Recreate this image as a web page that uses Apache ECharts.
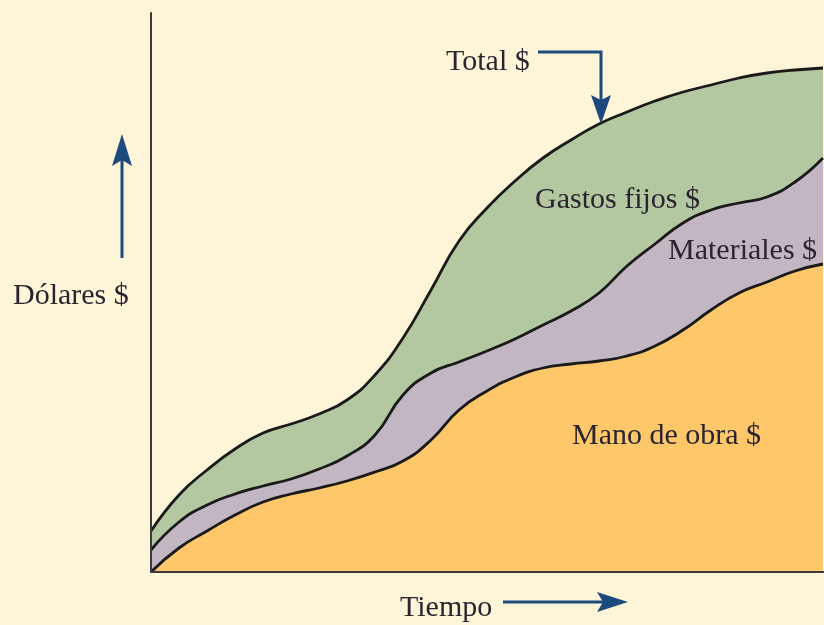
<!DOCTYPE html>
<html>
<head>
<meta charset="utf-8">
<script src="https://cdn.jsdelivr.net/npm/echarts@6/dist/echarts.min.js"></script>
<style>
  html, body { margin: 0; padding: 0; background: #FEF5D8; }
  #chart { width: 824px; height: 625px; }
</style>
</head>
<body>
<div id="chart"></div>
<script>
// Time points along the horizontal axis
const tiempo = [0, 28, 56, 84, 112, 140, 168, 196, 224, 252, 280, 308, 336, 364, 392, 420, 448, 476, 504, 532, 560, 588, 616, 644, 672];

// Cost components, stacked from the bottom up
const manoDeObra = [0, 24, 41, 57, 70, 78, 84, 91, 100, 111, 132, 162, 181, 195, 204, 208, 211, 216, 226, 242, 262, 279, 290, 301, 308];
const materiales = [22, 26, 26, 21, 16, 15, 19, 25, 37, 66, 67, 48, 40, 38, 43, 53, 68, 90, 102, 107, 100, 90, 85, 89, 106];
const gastosFijos = [19, 27, 35, 45, 53, 55, 55, 56, 60, 57, 83, 121, 143, 158, 167, 171, 169, 154, 143, 131, 125, 125, 124, 112, 90];

const seriesNames = ['Mano de obra $', 'Materiales $', 'Gastos fijos $'];
const layerColors = ['#FEC86A', '#C1B6C1', '#B3C8A1'];

// Running totals: the top edge of each layer
const layers = [manoDeObra, materiales, gastosFijos];
const tops = [];
layers.forEach((arr, k) => {
  tops.push(arr.map((v, i) => v + (k > 0 ? tops[k - 1][i] : 0)));
});

const chart = echarts.init(document.getElementById('chart'));

const serif = "'Liberation Serif', 'DejaVu Serif', serif";
const textColor = '#2a2430';
const arrowColor = '#1d4a7c';

function label(text, x, y) {
  return {
    type: 'text', x: x, y: y, z: 100,
    style: { text: text, font: '30px ' + serif, fill: textColor, textVerticalAlign: 'middle', textAlign: 'left' }
  };
}

// Each layer is filled down to the axis; upper layers sit behind lower ones
const series = tops.map((top, k) => ({
  name: seriesNames[k],
  type: 'line',
  smooth: 0.5,
  symbol: 'none',
  data: tiempo.map((t, i) => [t, top[i]]),
  lineStyle: { color: '#1a1a1a', width: 2.8 },
  areaStyle: { color: layerColors[k], opacity: 1 },
  z: 10 - k
}));

chart.setOption({
  backgroundColor: '#FEF5D8',
  animation: false,
  grid: { left: 151, right: 0, top: 13, bottom: 53 },
  xAxis: {
    type: 'value', min: 0, max: 673,
    axisLine: { show: true, onZero: false, lineStyle: { color: '#3a3a3a', width: 2 } },
    axisTick: { show: false }, axisLabel: { show: false }, splitLine: { show: false },
    z: 20
  },
  yAxis: {
    type: 'value', min: 0, max: 559,
    axisLine: { show: true, lineStyle: { color: '#3a3a3a', width: 2 } },
    axisTick: { show: false }, axisLabel: { show: false }, splitLine: { show: false },
    z: 20
  },
  series: series,
  graphic: [
    label('Total $', 446, 62),
    label('Gastos fijos $', 535, 200),
    label('Materiales $', 668, 251),
    label('Mano de obra $', 572, 436),
    label('Dólares $', 13, 296),
    label('Tiempo', 400, 608),
    // arrow pointing to the total curve
    { type: 'polyline', z: 100, shape: { points: [[538, 52], [601, 52], [601, 100]] },
      style: { stroke: arrowColor, lineWidth: 3, fill: null } },
    { type: 'polygon', z: 100, shape: { points: [[591, 95], [601, 100], [611, 95], [601, 124]] },
      style: { fill: arrowColor } },
    // vertical axis arrow
    { type: 'line', z: 100, shape: { x1: 122, y1: 258, x2: 122, y2: 158 },
      style: { stroke: arrowColor, lineWidth: 3 } },
    { type: 'polygon', z: 100, shape: { points: [[122, 134], [132, 166], [122, 160], [112, 166]] },
      style: { fill: arrowColor } },
    // horizontal axis arrow
    { type: 'line', z: 100, shape: { x1: 503, y1: 602, x2: 605, y2: 602 },
      style: { stroke: arrowColor, lineWidth: 3 } },
    { type: 'polygon', z: 100, shape: { points: [[628, 602], [597, 592], [603, 602], [597, 612]] },
      style: { fill: arrowColor } }
  ]
});
</script>
</body>
</html>
